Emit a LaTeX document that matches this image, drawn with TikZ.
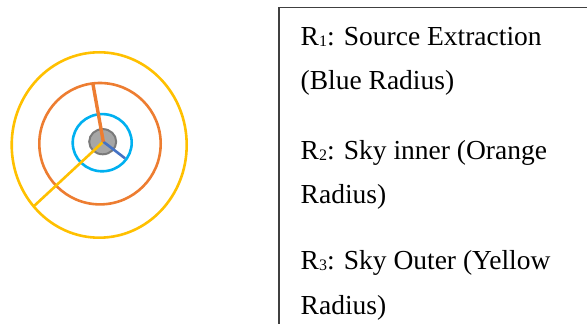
\documentclass[tikz,border=0pt]{standalone}
\usepackage{fontspec}
\setmainfont{Liberation Serif}
\definecolor{ringyellow}{HTML}{FFC000}
\definecolor{ringorange}{HTML}{ED7D31}
\definecolor{ringblue}{HTML}{00B0F0}
\definecolor{rayblue}{HTML}{4472C4}
\definecolor{srcfill}{HTML}{A6A6A6}
\definecolor{srcedge}{HTML}{7A7A7A}
\definecolor{boxline}{HTML}{404040}
% small index digit sitting on the baseline
\newcommand{\idx}[1]{\raisebox{-0.8pt}{\fontsize{16}{16}\selectfont #1}}
\tikzset{
  ring/.style={line width=2.6pt},
  ray/.style={line width=2.6pt},
  legend/.style={anchor=base west, inner sep=0pt, font=\fontsize{27.5}{30}\selectfont, text=black}
}
\begin{document}
\begin{tikzpicture}[x=1pt,y=1pt]
  \useasboundingbox (0,0) rectangle (587,324);
  % apertures (y measured from the bottom)
  \coordinate (c) at (103.3,182.3);
  \draw[ring, ringyellow] (99.2,179) ellipse [x radius=87.5, y radius=92.7];
  \draw[ring, ringorange] (100,180.3) circle [radius=60.7];
  \draw[ring, ringblue] (102.2,181.3) ellipse [x radius=29.5, y radius=28.6];
  \draw[line width=2pt, srcedge, fill=srcfill] (102.7,182.3) ellipse [x radius=13.5, y radius=12.6];
  % radii
  \coordinate (r1) at (125,165.7);
  \coordinate (r2) at (92.7,241.3);
  \coordinate (r3) at (33.3,117.3);
  \draw[ray, ringyellow] (c) -- (r3);
  \draw[ray, rayblue] (c) -- (r1);
  \draw[line width=3.4pt, ringorange] (c) -- (r2);
  % legend box (open on the right and bottom)
  \draw[line width=1.3pt, boxline] (279,0) -- (279,316.5) -- (587,316.5);
  \node[legend] (l1) at (300.5,278.3) {R\idx{1}: Source Extraction};
  \node[legend] (l2) at (300.5,234.3) {(Blue Radius)};
  \node[legend] (l3) at (300.5,164.7) {R\idx{2}: Sky inner (Orange};
  \node[legend] (l4) at (300.5,120) {Radius)};
  \node[legend] (l5) at (300.5,54) {R\idx{3}: Sky Outer (Yellow};
  \node[legend] (l6) at (300.5,9) {Radius)};
\end{tikzpicture}
\end{document}
